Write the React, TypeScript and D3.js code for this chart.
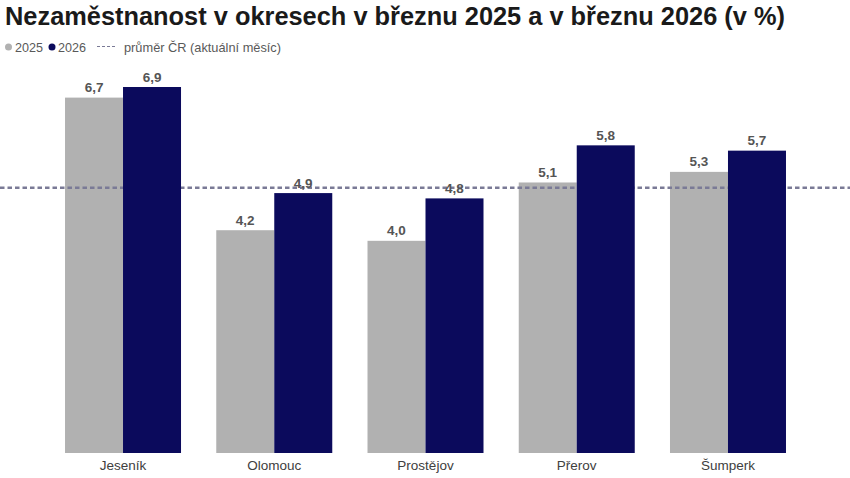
import React from 'react';
import * as d3 from 'd3';

const districts = ['Jeseník', 'Olomouc', 'Prostějov', 'Přerov', 'Šumperk'];
const years = ['2025', '2026'];
const values2025 = [6.7, 4.2, 4.0, 5.1, 5.3];
const values2026 = [6.9, 4.9, 4.8, 5.8, 5.7];
const czAverage = 5.0;

const colours: Record<string, string> = { '2025': '#b1b1b1', '2026': '#0b0a5c' };

export default function App() {
    const width = 850;
    const height = 478;
    const baseline = 453;
    const top = 87;

    const x = d3.scaleBand()
        .domain(districts)
        .range([47.4, 803.6])
        .paddingInner(0.233)
        .paddingOuter(0.1165);
    const xSub = d3.scaleBand()
        .domain(years)
        .range([0, x.bandwidth()]);
    const y = d3.scaleLinear()
        .domain([0, 6.9])
        .range([baseline, top]);

    const fmt = (v: number) => v.toFixed(1).replace('.', ',');
    const font = 'Liberation Sans, Arial, sans-serif';

    const bars = (year: string, vals: number[]) => vals.map((v, i) => (
        <g key={year + i}>
            <rect
                x={(x(districts[i]) ?? 0) + (xSub(year) ?? 0)}
                y={y(v)}
                width={xSub.bandwidth()}
                height={baseline - y(v)}
                fill={colours[year]}
            />
            <text
                x={(x(districts[i]) ?? 0) + (xSub(year) ?? 0) + xSub.bandwidth() / 2}
                y={y(v) - 5.5}
                textAnchor="middle"
                fontSize={13.5}
                fontWeight="bold"
                fill="#555"
            >{fmt(v)}</text>
        </g>
    ));

    return (
        <svg width={width} height={height} viewBox={`0 0 ${width} ${height}`}
            style={{ position: 'absolute', left: 0, top: 0, background: '#fff' }}
            fontFamily={font}>
            <text x={5} y={25} fontSize={25.5} fontWeight="bold" fill="#1a1a1a"
                textLength={780} lengthAdjust="spacingAndGlyphs">
                Nezaměstnanost v okresech v březnu 2025 a v březnu 2026 (v %)
            </text>

            {/* legend */}
            <circle cx={8.5} cy={47} r={3.5} fill={colours['2025']} />
            <text x={15} y={52} fontSize={13.5} fill="#595959" textLength={28} lengthAdjust="spacingAndGlyphs">2025</text>
            <circle cx={52} cy={47} r={3.5} fill={colours['2026']} />
            <text x={58} y={52} fontSize={13.5} fill="#595959" textLength={28} lengthAdjust="spacingAndGlyphs">2026</text>
            <line x1={97} x2={115} y1={46.5} y2={46.5} stroke="#7a7a96" strokeWidth={1.2} strokeDasharray="3,2" />
            <text x={124} y={52} fontSize={13.5} fill="#595959" textLength={157} lengthAdjust="spacingAndGlyphs">průměr ČR (aktuální měsíc)</text>

            {bars('2025', values2025)}
            <line x1={0} x2={width} y1={y(czAverage)} y2={y(czAverage)}
                stroke="#7a7a96" strokeWidth={2.5} strokeDasharray="4.5,3" />
            {bars('2026', values2026)}

            {districts.map(d => (
                <text key={d} x={(x(d) ?? 0) + x.bandwidth() / 2} y={470}
                    textAnchor="middle" fontSize={13.5} fill="#404040">{d}</text>
            ))}
        </svg>
    );
}
